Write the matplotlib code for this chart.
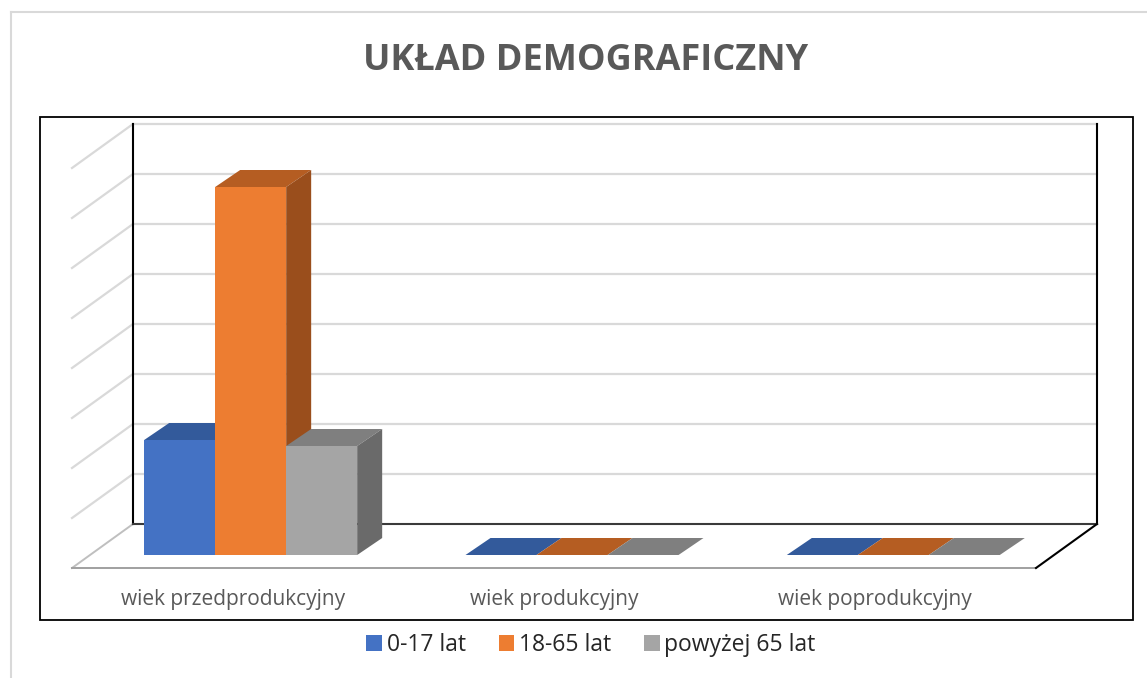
import matplotlib.pyplot as plt
from matplotlib.patches import Polygon, Rectangle, Patch
from matplotlib.lines import Line2D

kategorie = ['wiek przedprodukcyjny', 'wiek produkcyjny', 'wiek poprodukcyjny']
serie = ['0-17 lat', '18-65 lat', 'powyżej 65 lat']
wartosci_0_17 = [230, 0, 0]
wartosci_18_65 = [736, 0, 0]
wartosci_powyzej_65 = [218, 0, 0]
siatka = [0, 100, 200, 300, 400, 500, 600, 700, 800]

# kolory: przód, góra, bok
kolory = [
    ('#4472C4', '#335A9B', '#2E5090'),
    ('#ED7D31', '#B55D22', '#9A4E1C'),
    ('#A5A5A5', '#7F7F7F', '#6A6A6A'),
]

plt.rcParams['font.family'] = ['Open Sans', 'DejaVu Sans']

W, H = 1147, 678
fig = plt.figure(figsize=(W / 100, H / 100), dpi=100)
ax = fig.add_axes([133 / W, 1 - 524 / H, 964 / W, 400 / H])
ax.set_xlim(-0.5, len(kategorie) - 0.5)
ax.set_ylim(siatka[0], siatka[-1])
ax.axis('off')

p0 = ax.transData.transform((0, 0))


def d(px_x, px_y):
    # przesunięcie w pikselach -> jednostki danych
    x, y = ax.transData.inverted().transform((p0[0] + px_x, p0[1] + px_y))
    return x, y


xmin, xmax = ax.get_xlim()
glab_x, glab_y = d(-61, -44)

# ściana tylna i boczna
for g in siatka[1:]:
    ax.plot([xmin, xmax], [g, g], color='#D9D9D9', lw=1.6, zorder=1, clip_on=False)
    ax.plot([xmin, xmin + glab_x], [g, g + glab_y], color='#D9D9D9', lw=1.6, zorder=1, clip_on=False)
ax.plot([xmin, xmin + glab_x], [0, glab_y], color='#BFBFBF', lw=1.4, zorder=1, clip_on=False)
ax.plot([xmin, xmin], [0, siatka[-1]], color='black', lw=1.5, zorder=2, clip_on=False)
ax.plot([xmax, xmax], [0, siatka[-1]], color='black', lw=1.5, zorder=2, clip_on=False)
ax.plot([xmin, xmax], [0, 0], color='#3A3A3A', lw=1.5, zorder=2, clip_on=False)
ax.plot([xmin + glab_x, xmax + glab_x], [glab_y, glab_y], color='#A0A0A0', lw=1.4, zorder=2, clip_on=False)
ax.plot([xmax, xmax + glab_x], [0, glab_y], color='black', lw=1.5, zorder=2, clip_on=False)

# słupki
szer = d(71, 0)[0]
fx, fy = d(-43, -31)
bx, by = d(-18, -14)
wartosci = [wartosci_0_17, wartosci_18_65, wartosci_powyzej_65]
pozycje = list(range(len(kategorie)))
for i, (vals, (c_front, c_top, c_side)) in enumerate(zip(wartosci, kolory)):
    z = 3 + i
    xs = [p + (i - 1) * szer for p in pozycje]
    ax.bar([x + fx for x in xs], vals, width=szer, bottom=fy, color=c_front,
           zorder=z, clip_on=False)
    for x, v in zip(xs, vals):
        x0, x1 = x - szer / 2, x + szer / 2
        ax.add_patch(Polygon([(x0 + fx, v + fy), (x1 + fx, v + fy),
                              (x1 + bx, v + by), (x0 + bx, v + by)],
                             closed=True, facecolor=c_top, edgecolor='none',
                             zorder=z, clip_on=False))
        if v > 0:
            ax.add_patch(Polygon([(x1 + fx, fy), (x1 + fx, v + fy),
                                  (x1 + bx, v + by), (x1 + bx, by)],
                                 closed=True, facecolor=c_side, edgecolor='none',
                                 zorder=z, clip_on=False))

# etykiety kategorii
ly = d(0, -75)[1]
for p, k in zip(pozycje, kategorie):
    ax.text(p + glab_x, ly, k, ha='center', va='center', fontsize=15,
            color='#595959', clip_on=False)

# tytuł
fig.text(586 / W, 1 - 61 / H, 'UKŁAD DEMOGRAFICZNY', ha='center', va='center',
         fontsize=26, fontweight='bold', color='#595959')

# ramki
fig.patches.append(Rectangle((40 / W, 1 - 620 / H), 1093 / W, 503 / H, fill=False,
                             edgecolor='black', lw=1.3, transform=fig.transFigure))
fig.lines.append(Line2D([11 / W, 11 / W], [0, 1 - 12 / H], color='#D9D9D9', lw=1.5,
                        transform=fig.transFigure))
fig.lines.append(Line2D([11 / W, 1], [1 - 12 / H, 1 - 12 / H], color='#D9D9D9', lw=1.5,
                        transform=fig.transFigure))

# legenda
uchwyty = [Patch(facecolor=k[0], edgecolor='none') for k in kolory]
fig.legend(uchwyty, serie, loc='center', bbox_to_anchor=(591 / W, 1 - 645 / H),
           ncol=3, frameon=False, fontsize=16.5, handlelength=0.68, handleheight=0.65,
           handletextpad=0.2, columnspacing=1.45, labelcolor='#262626')

fig.savefig('out.png', dpi=100)
